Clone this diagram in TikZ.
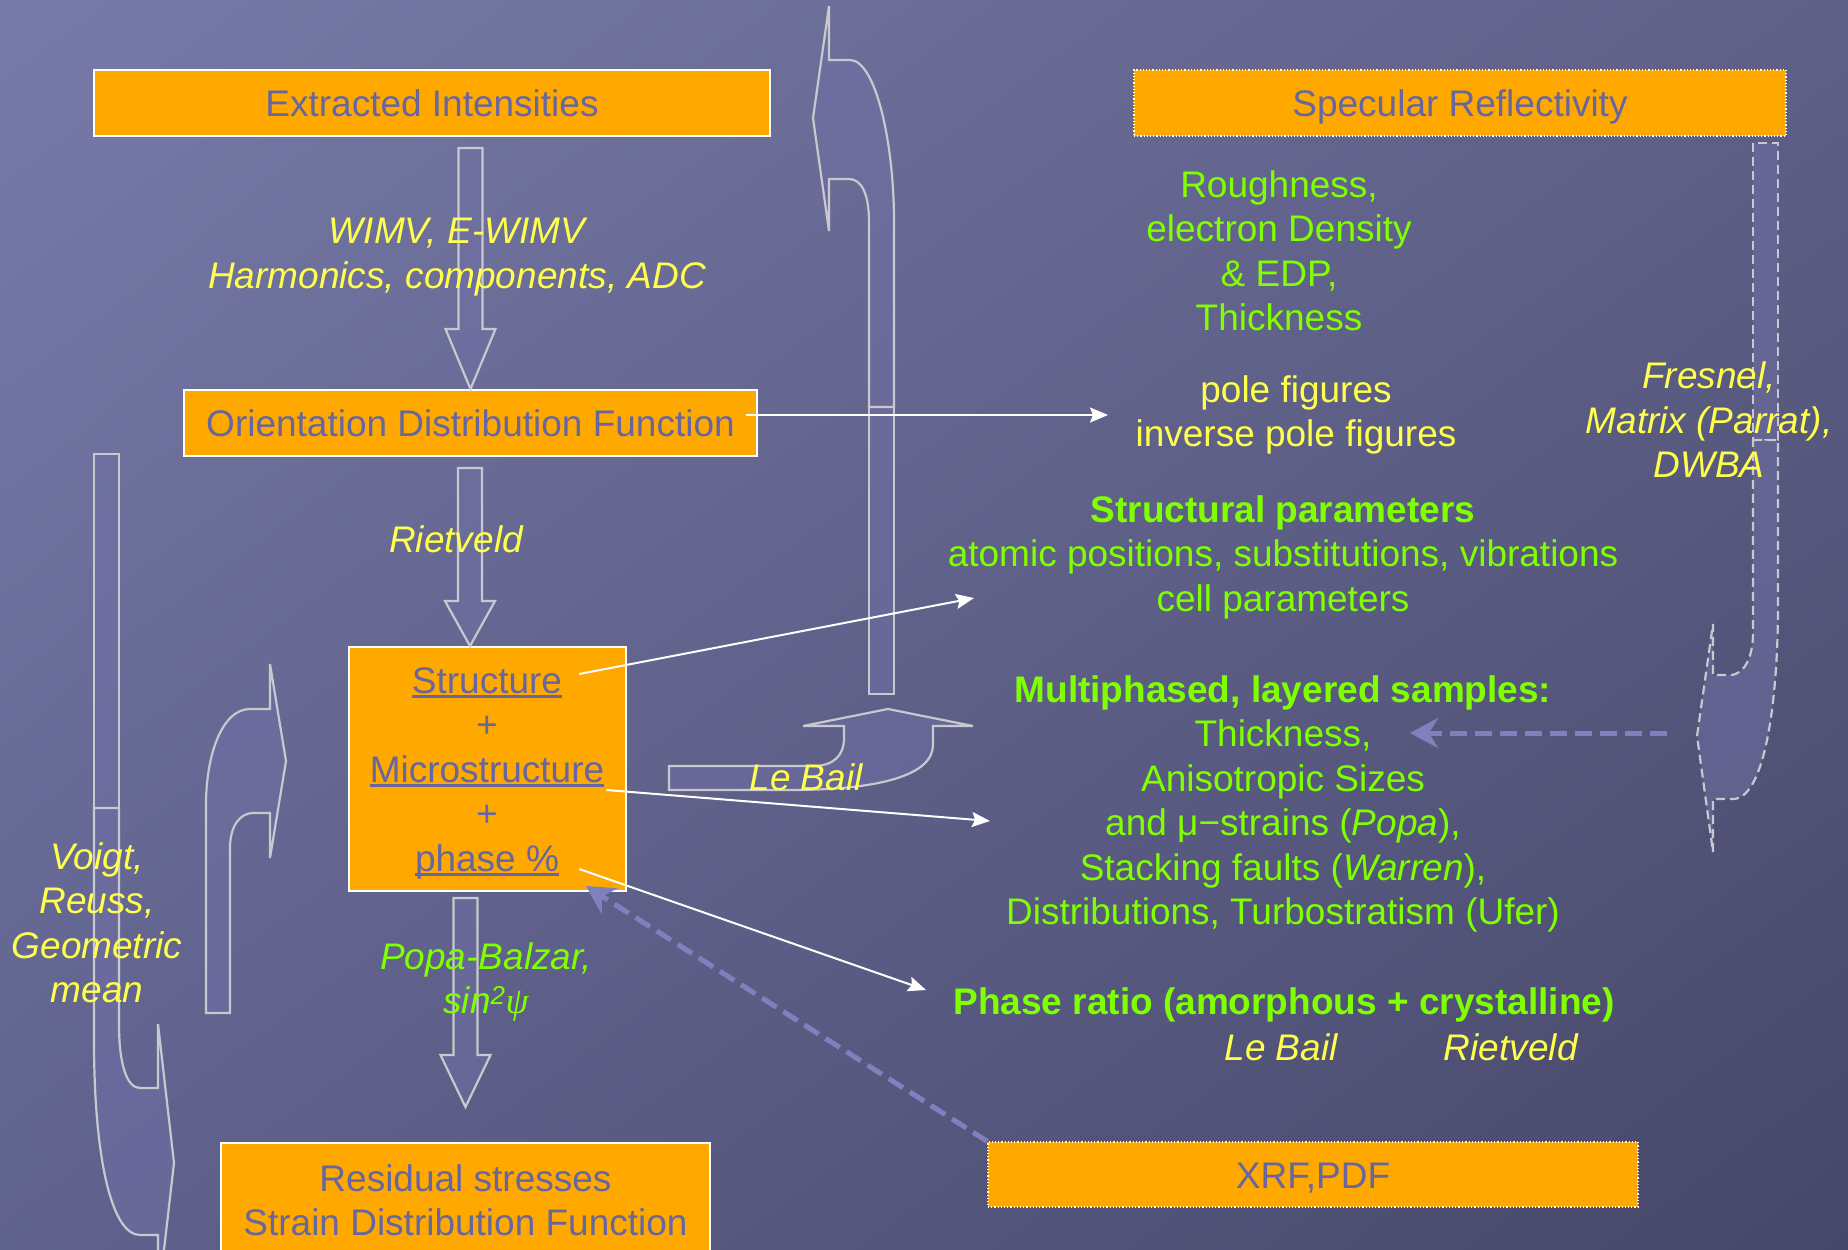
\documentclass[tikz,border=0pt]{standalone}
\usepackage{fontspec}
\setmainfont{Liberation Sans}
\newfontfamily\greekserif{Liberation Serif}
\usetikzlibrary{positioning,arrows.meta,calc,shadings}

\definecolor{bgul}{RGB}{120,123,168}
\definecolor{bgur}{RGB}{94,96,136}
\definecolor{bgll}{RGB}{96,98,142}
\definecolor{bglr}{RGB}{70,71,104}
\definecolor{boxorange}{RGB}{255,168,0}
\definecolor{boxtext}{RGB}{102,102,160}
\definecolor{txtyellow}{RGB}{255,255,77}
\definecolor{txtgreen}{RGB}{128,255,0}
\definecolor{arrowfill}{RGB}{112,112,165}
\definecolor{arrowedge}{RGB}{200,200,206}
\definecolor{dashblue}{RGB}{128,128,190}

\newcommand{\slidefont}{\fontsize{37}{44.5}\selectfont}
\newcommand{\undl}[1]{\setbox0\hbox{#1}\rlap{\rule[-4.5pt]{\wd0}{2.4pt}}\box0}

\tikzset{
  obox/.style={rectangle,draw=white,line width=2pt,fill=boxorange,text=boxtext,
    font=\slidefont,align=center,inner sep=0pt},
  onebox/.style={obox,text height=27pt,text depth=0pt},
  dotbox/.style={onebox,line width=1.2pt,dotted},
  btxt/.style={text=boxtext,font=\slidefont,inner sep=1pt},
  ytxt/.style={text=txtyellow,font=\slidefont\itshape,align=center,inner sep=1pt},
  gtxt/.style={text=txtgreen,font=\slidefont,align=center,inner sep=1pt},
  blk/.style={draw=arrowedge,line width=2.2pt,fill=arrowfill,fill opacity=0.55},
  blkdash/.style={blk,dash pattern=on 9pt off 5pt},
  wline/.style={draw=white,line width=2pt,-{Stealth[length=18pt,width=15pt,inset=3pt]}},
  dline/.style={draw=dashblue,line width=5pt,dash pattern=on 17pt off 8pt,
    -{Stealth[length=28pt,width=30pt,inset=9pt]}},
}

\begin{document}
\begin{tikzpicture}[x=1pt,y=-1pt]
  \useasboundingbox (0,0) rectangle (1848,1250);
  \clip (0,0) rectangle (1848,1250);
  % slide background
  \shade[upper left=bgul,upper right=bgur,lower left=bgll,lower right=bglr]
    (0,0) rectangle (1848,1250);

  % curved block arrows
  \draw[blk] (669,766) -- (669,790) -- (790,790) .. controls (880,790) and (933,775) .. (933,745)
    -- (933,726) -- (973,726) -- (888,709) -- (803,726) -- (844,726) -- (844,738)
    .. controls (844,756) and (833,766) .. (813,766) -- cycle;
  \draw[blk] (869,407) rectangle (894,694);
  \draw[blk] (869,407) -- (869,222) .. controls (869,195) and (862,179) .. (849,179) -- (829,179)
    -- (829,231) -- (813,118) -- (829,6) -- (829,60) -- (850,60)
    .. controls (875,60) and (894,140) .. (894,222) -- (894,407) -- cycle;
  \draw[blk] (94,454) rectangle (119,808);
  \draw[blk] (94,808) -- (94,1040) .. controls (94,1160) and (112,1235) .. (140,1235) -- (158,1235)
    -- (158,1302) -- (174,1163) -- (158,1024) -- (158,1088) -- (140,1088)
    .. controls (127,1088) and (119,1065) .. (119,1024) -- (119,808) -- cycle;
  \draw[blk] (206,1013) -- (230,1013) -- (230,848) .. controls (230,826) and (240,813) .. (253,813)
    -- (270,813) -- (270,858) -- (286,761) -- (270,664) -- (270,709) -- (250,709)
    .. controls (222,709) and (206,755) .. (206,805) -- cycle;
  \draw[blkdash] (1753,143) rectangle (1778,440);
  \draw[blkdash] (1753,440) -- (1778,440) -- (1778,605) .. controls (1778,700) and (1765,799) .. (1733,799)
    -- (1713,799) -- (1713,852) -- (1697,736) coordinate (frTip) -- (1713,624) -- (1713,675) -- (1730,675)
    .. controls (1745,675) and (1753,655) .. (1753,634) -- cycle;

  % boxes
  \node[onebox,minimum width=676pt,minimum height=66pt] (ext) at (432,103) {Extracted Intensities};
  \node[dotbox,minimum width=652pt,minimum height=66pt] (spec) at (1460,103) {Specular Reflectivity};
  \node[onebox,minimum width=573pt,minimum height=66pt] (odf) at (470.5,423) {Orientation Distribution Function};
  \node[obox,minimum width=277pt,minimum height=244pt] (smp) at (487.5,769) {};
  \node[obox,minimum width=489pt,minimum height=115pt] (res) at (465.5,1200.5)
    {Residual stresses\\Strain Distribution Function};
  \node[dotbox,minimum width=650pt,minimum height=65pt] (xrf) at (1313,1174.5) {XRF,PDF};

  % straight block arrows
  \draw[blk] (odf.north) -- ++(-25,-60) -- ++(13,0) -- ++(0,-181) -- ++(24,0)
    -- ++(0,181) -- ++(13,0) -- cycle;
  \draw[blk] ([xshift=-17.5pt]smp.north) -- ++(-25,-45) -- ++(13,0) -- ++(0,-133) -- ++(24,0)
    -- ++(0,133) -- ++(13,0) -- cycle;
  \draw[blk] ([yshift=35pt]res.north) -- ++(-25,-52) -- ++(13,0) -- ++(0,-157) -- ++(24,0)
    -- ++(0,157) -- ++(13,0) -- cycle;

  % sample box contents
  \node[btxt,anchor=base] (str) at (487,693) {\undl{Structure}};
  \node[btxt,anchor=base] (pl1) at (487,737) {+};
  \node[btxt,anchor=base] (mic) at (487,782) {\undl{Microstructure}};
  \node[btxt,anchor=base] (pl2) at (487,826) {+};
  \node[btxt,anchor=base] (pha) at (487,871) {\undl{phase \%}};

  % method labels
  \node[ytxt] (wimv) at (457,257) {WIMV, E-WIMV\\Harmonics, components, ADC};
  \node[ytxt] (riet) at (456,539) {Rietveld};
  \node[gtxt,font=\slidefont\itshape] (popa) at (486,982)
    {Popa-Balzar,\\sin\textsuperscript{2}{\greekserif ψ}};
  \node[ytxt] (voigt) at (97,923) {Voigt,\\Reuss,\\Geometric\\mean};
  \node[ytxt] (lbl) at (806,777) {Le Bail};
  \node[ytxt] (fres) at (1709,420) {Fresnel,\\Matrix (Parrat),\\DWBA};

  % results
  \node[gtxt] (rough) at (1279,251) {Roughness,\\electron Density\\\& EDP,\\Thickness};
  \node[ytxt,font=\slidefont] (pole) at (1296,415) {pole figures\\inverse pole figures};
  \node[gtxt] (stp) at (1283,557)
    {\textbf{Structural parameters}\\atomic positions, substitutions, vibrations\\cell parameters};
  \node[gtxt] (mls) at (1283,804)
    {\textbf{Multiphased, layered samples:}\\Thickness,\\Anisotropic Sizes\\and μ−strains (\textit{Popa}),\\Stacking faults (\textit{Warren}),\\Distributions, Turbostratism (Ufer)};
  \node[gtxt,font=\slidefont\bfseries] (ratio) at (1284,1005) {Phase ratio (amorphous + crystalline)};
  \node[ytxt] (lb2) at (1281,1047) {Le Bail};
  \node[ytxt,right=104pt of lb2] (rv2) {Rietveld};

  % pointers
  \coordinate (poleTip) at (1108,415);
  \coordinate (cellTip) at (974,598);
  \coordinate (strainTip) at (990,821);
  \coordinate (ratioTip) at (926,990);
  \coordinate (thkTip) at (1410,733);
  \draw[wline] ([xshift=-12pt,yshift=8pt]odf.east) -- (poleTip);
  \draw[wline] ([xshift=16pt,yshift=19pt]str.base east) -- (cellTip);
  \draw[wline] ([xshift=1pt,yshift=-8pt]mic.base east) -- (strainTip);
  \draw[wline] ([xshift=19pt,yshift=2pt]pha.base east) -- (ratioTip);
  \draw[dline] ([xshift=-30pt,yshift=3pt]frTip) -- (thkTip);
  \draw[dline] (xrf.north west) -- ([xshift=-41pt,yshift=6pt]smp.south east);
\end{tikzpicture}
\end{document}
